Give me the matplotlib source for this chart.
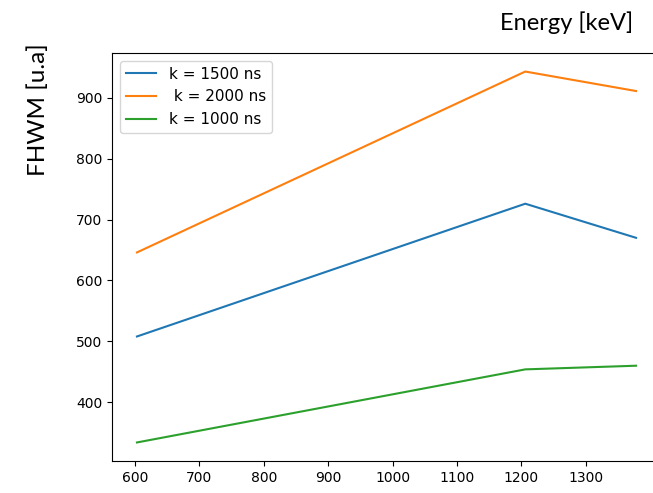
import matplotlib.pyplot as plt

# energies
energy = [603, 1206, 1378]
fwhm_1500 = [508, 726, 670]
fwhm_2000 = [646, 943, 911]
fwhm_1000 = [334, 454, 460]
xticks = [600, 700, 800, 900, 1000, 1100, 1200, 1300]

fig = plt.figure(figsize=(6.53, 4.93), dpi=100)
ax = fig.add_axes([112/653, 1 - 461/493, 549/653, 408/493])

ax.plot(energy, fwhm_1500, label="k = 1500 ns")
ax.plot(energy, fwhm_2000, label=" k = 2000 ns")
ax.plot(energy, fwhm_1000, label="k = 1000 ns")
ax.set_xticks(xticks)
ax.legend(loc="upper left", fontsize=11)

fig.text(633/653, 1 - 23/493, "Energy [keV]", ha="right", va="center",
         fontsize=17, family="Lato")
fig.text(38/653, 1 - 110/493, "FHWM [u.a]", ha="center", va="center",
         rotation=90, fontsize=17.5, family="Lato")

fig.savefig("out.png", dpi=100)
